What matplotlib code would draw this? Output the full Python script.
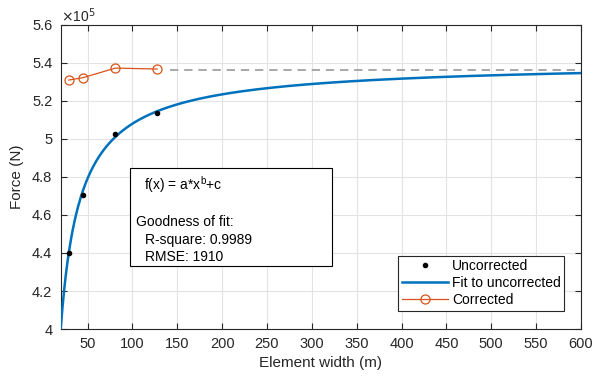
import numpy as np
import matplotlib
matplotlib.use("Agg")
import matplotlib.pyplot as plt
from matplotlib.ticker import FixedLocator, FixedFormatter
from matplotlib.patches import Rectangle

plt.rcParams['font.family'] = ['Liberation Sans', 'DejaVu Sans']

# data (forces in units of 1e5 N)
widths = [29, 44.5, 81, 127.5]
uncorrected = [4.40, 4.705, 5.025, 5.138]
corrected = [5.310, 5.322, 5.373, 5.368]
# fitted power law f(x) = a*x^b + c (units 1e5 N)
fit_a, fit_b, fit_c = -20.98, -0.9, 5.413
ref_level = 5.363
ref_x = [142, 600]
xticks = [50, 100, 150, 200, 250, 300, 350, 400, 450, 500, 550, 600]
yticks = [4, 4.2, 4.4, 4.6, 4.8, 5, 5.2, 5.4, 5.6]
ylabels = ['4', '4.2', '4.4', '4.6', '4.8', '5', '5.2', '5.4', '5.6']

blue = '#0072BD'
orange = '#D95319'
axc = '#262626'

fig = plt.figure(figsize=(6.02, 3.78), dpi=100)
ax = fig.add_axes([0.1008, 0.1296, 0.965 - 0.1008, 0.934 - 0.1296])

xf = np.linspace(20, 600, 600)
yf = fit_a * xf ** fit_b + fit_c

ax.plot(ref_x, [ref_level, ref_level], ls=(0, (5, 3.5)), color='#9a9a9a', lw=1.2, zorder=2)
h1, = ax.plot(widths, uncorrected, ls='none', marker='.', color='black', ms=6, zorder=4, label='Uncorrected')
h2, = ax.plot(xf, yf, color=blue, lw=1.8, zorder=3, label='Fit to uncorrected')
h3, = ax.plot(widths, corrected, color=orange, marker='o', mfc='none', ms=6.5, lw=0.9, mew=0.9, zorder=3, label='Corrected')

ax.set_xlim(20, 600)
ax.set_ylim(4, 5.6)
ax.xaxis.set_major_locator(FixedLocator(xticks))
ax.yaxis.set_major_locator(FixedLocator(yticks))
ax.yaxis.set_major_formatter(FixedFormatter(ylabels))
ax.grid(True, color='#e3e3e3', lw=0.8, zorder=0)
ax.set_axisbelow(True)
ax.tick_params(direction='in', length=4, width=0.8, colors=axc, labelsize=10.5,
               top=True, right=True, labelcolor=axc, pad=6)
for s in ax.spines.values():
    s.set_color(axc)
    s.set_linewidth(0.8)

ax.set_xlabel('Element width (m)', fontsize=11, color=axc, labelpad=3)
ax.set_ylabel('Force (N)', fontsize=11, color=axc, labelpad=6)

fig.text(61 / 602, 1 - 16 / 378, r'$\times$10$^5$', fontsize=10, color=axc, va='center', ha='left')

# fit info box
bx0, by0, bx1, by1 = 129.5, 167.5, 332, 265.5
fig.patches.append(Rectangle((bx0 / 602, 1 - by1 / 378), (bx1 - bx0) / 602, (by1 - by0) / 378,
                             transform=fig.transFigure, fill=True, facecolor='white',
                             edgecolor='black', lw=0.8, zorder=5))
tk = dict(fontsize=10, color='black', va='center', ha='left', zorder=6)
fig.text(144 / 602, 1 - 185 / 378, r'f(x) = a*x$^\mathregular{b}$+c', **tk)
fig.text(136.5 / 602, 1 - 222 / 378, 'Goodness of fit:', **tk)
fig.text(145 / 602, 1 - 240 / 378, 'R-square: 0.9989', **tk)
fig.text(145 / 602, 1 - 257 / 378, 'RMSE: 1910', **tk)

leg = ax.legend(handles=[h1, h2, h3], loc='upper right', bbox_to_anchor=(564 / 602, 1 - 255.5 / 378),
                bbox_transform=fig.transFigure, fontsize=10, frameon=True, fancybox=False,
                edgecolor=axc, framealpha=1, handlelength=3.3, handletextpad=0.3,
                labelspacing=0.22, borderpad=0.25, borderaxespad=0)
leg.get_frame().set_linewidth(0.8)

fig.savefig('out.png', dpi=100)
